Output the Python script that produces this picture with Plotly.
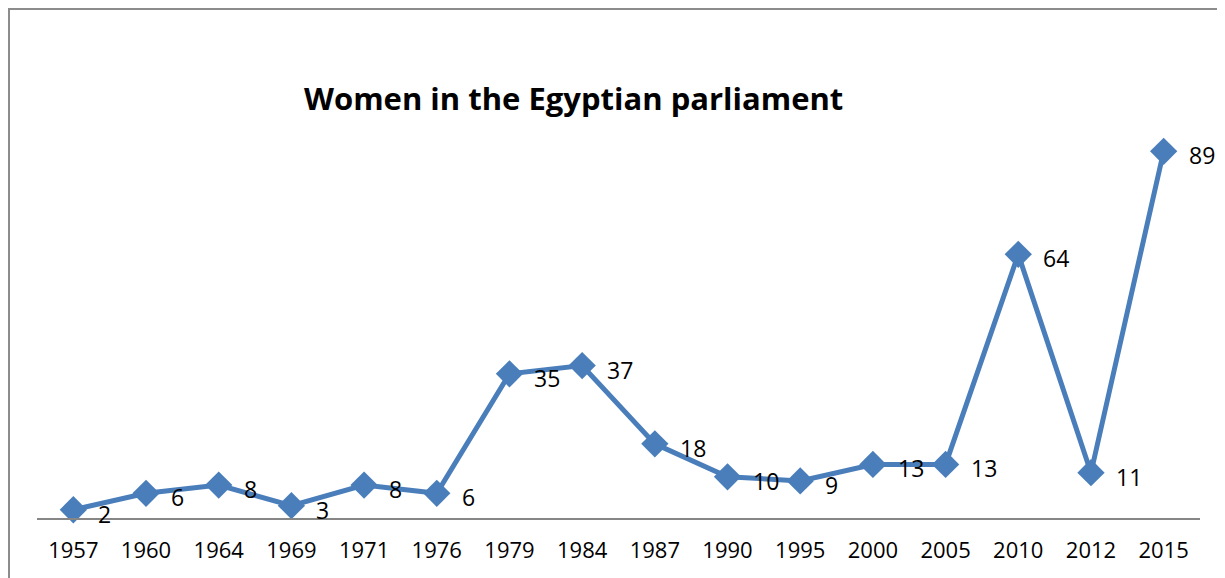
import plotly.graph_objects as go

years = ["1957", "1960", "1964", "1969", "1971", "1976", "1979", "1984",
         "1987", "1990", "1995", "2000", "2005", "2010", "2012", "2015"]
women = [2, 6, 8, 3, 8, 6, 35, 37, 18, 10, 9, 13, 13, 64, 11, 89]

title_text = "Women in the Egyptian parliament"
color = "#4A7EBB"
font_family = "Open Sans"

# page body has an 8px margin, so figure coords = page coords - 8
W, H = 1217, 570
L, R, T, B = 29, 25, 98, 60
PW, PH = W - L - R, H - T - B

fig = go.Figure()
fig.add_trace(go.Scatter(
    x=years, y=women, mode="lines+markers",
    line=dict(color=color, width=5),
    marker=dict(symbol="diamond", size=21, color=color),
    hoverinfo="x+y", showlegend=False, cliponaxis=False,
))

for i, v in enumerate(women):
    fig.add_annotation(x=i, y=v, text=str(v), showarrow=False,
                       xanchor="left", yanchor="middle", xshift=23, yshift=-4,
                       font=dict(family=font_family, size=23, color="#000000"))

fig.add_annotation(xref="paper", yref="paper", x=(573 - 8 - L) / PW, y=(H - B - (98 - 8)) / PH,
                   text="<b>" + title_text + "</b>", showarrow=False,
                   xanchor="center", yanchor="middle",
                   font=dict(family=font_family, size=31, color="#000000"))

# outer chart border
fig.add_shape(type="rect", xref="paper", yref="paper",
              x0=(1 - L) / PW, x1=1.1, y0=-0.3, y1=(H - B - 1) / PH,
              line=dict(color="#8C8C8C", width=2), fillcolor="rgba(0,0,0,0)", layer="below")

fig.update_layout(
    width=W, height=H,
    margin=dict(l=L, r=R, t=T, b=B),
    paper_bgcolor="white", plot_bgcolor="white",
    font=dict(family=font_family, size=22, color="#000000"),
    xaxis=dict(type="category", range=[-0.5, 15.5], showgrid=False,
               showline=True, linecolor="#868686", linewidth=2,
               ticks="", tickfont=dict(size=22), ticklabelstandoff=12, fixedrange=True),
    yaxis=dict(range=[0, 100], showgrid=False, showline=False, showticklabels=False,
               zeroline=False, fixedrange=True),
)

fig.write_html("out.html")
